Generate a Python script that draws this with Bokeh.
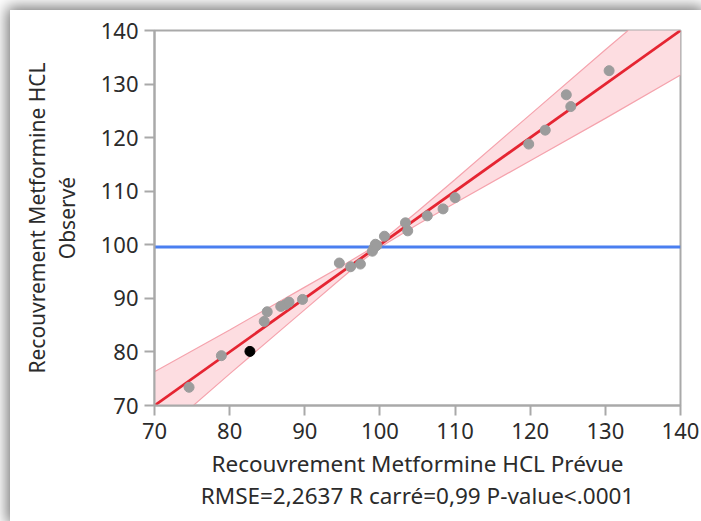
from bokeh.plotting import figure
from bokeh.models import Range1d, FixedTicker
from bokeh.embed import file_html
from bokeh.resources import INLINE

# Predicted vs observed recovery (%) for metformin HCl
predicted = [74.6, 78.9, 84.6, 85.0, 86.8, 87.4, 87.9, 89.7, 94.6, 96.1, 97.4,
             99.0, 99.2, 99.4, 99.6, 100.6, 103.4, 103.7, 106.3, 108.4, 110.0,
             119.8, 122.0, 124.8, 125.4, 130.5]
observed = [73.4, 79.3, 85.7, 87.5, 88.5, 88.8, 89.3, 89.8, 96.6, 95.9, 96.4,
            98.8, 99.4, 100.1, 99.9, 101.6, 104.1, 102.6, 105.4, 106.7, 108.8,
            118.8, 121.4, 128.0, 125.8, 132.5]

# Selected (highlighted) run
selected_predicted = [82.7]
selected_observed = [80.1]

# Fit line and its confidence curves
fit_x = [70, 140]
fit_y = [70, 140]
band_x = [70, 80, 90, 95, 98, 99.6, 101, 105, 110, 120, 130, 140]
band_lower = [63.7, 75.9, 87.9, 93.9, 97.4, 99.1, 100.4, 103.8, 107.8, 115.7, 123.6, 131.7]
band_upper = [76.3, 84.1, 92.1, 96.1, 98.6, 100.1, 101.6, 106.2, 112.2, 124.3, 136.4, 148.3]

# Mean of the observed response
mean_x = [70, 140]
mean_y = [99.6, 99.6]

ticks = [70, 80, 90, 100, 110, 120, 130, 140]

x_title = "Recouvrement Metformine HCL Prévue\nRMSE=2,2637 R carré=0,99 P-value<.0001"
y_title = "Recouvrement Metformine HCL\nObservé"

FONT = "Noto Sans"
GRID = "#a9a9a9"
TEXT = "#2b2b2b"

p = figure(width=691, height=511, output_backend="svg", toolbar_location=None,
           x_range=Range1d(70, 140), y_range=Range1d(70, 140),
           min_border_left=144, min_border_right=21,
           min_border_top=20, min_border_bottom=116)
p.margin = (10, 0, 0, 10)
p.styles = {"box-shadow": "0px 0px 14px 3px rgba(0,0,0,0.55)"}
p.background_fill_color = "white"
p.border_fill_color = "white"
p.outline_line_color = GRID
p.outline_line_width = 2
p.xgrid.visible = False
p.ygrid.visible = False

# confidence region
p.varea(x=band_x, y1=band_lower, y2=band_upper, fill_color="#fddde1", fill_alpha=1.0)
p.line(band_x, band_lower, line_color="#f5a3ad", line_width=1.2)
p.line(band_x, band_upper, line_color="#f5a3ad", line_width=1.2)

# mean line
p.line(mean_x, mean_y, line_color="#4a7ff0", line_width=3)

# fit line
p.line(fit_x, fit_y, line_color="#e52532", line_width=2.8)

# points
p.scatter(predicted, observed, size=10, fill_color="#9c9c9c", line_color="#9c9c9c")
p.scatter(selected_predicted, selected_observed, size=10, fill_color="black", line_color="black")

for ax in (p.xaxis[0], p.yaxis[0]):
    ax.ticker = FixedTicker(ticks=ticks)
    ax.minor_tick_line_color = None
    ax.axis_line_color = GRID
    ax.axis_line_width = 2
    ax.major_tick_line_color = GRID
    ax.major_tick_line_width = 2
    ax.major_tick_out = 10
    ax.major_tick_in = 0
    ax.major_label_text_font = FONT
    ax.major_label_text_font_size = "22px"
    ax.major_label_text_color = TEXT
    ax.axis_label_text_font = FONT
    ax.axis_label_text_font_style = "normal"
    ax.axis_label_text_color = TEXT
    ax.axis_label_text_line_height = 1.05

p.xaxis[0].axis_label = x_title
p.xaxis[0].axis_label_text_font_size = "22.5px"
p.xaxis[0].major_label_standoff = 7
p.xaxis[0].axis_label_standoff = 6
p.yaxis[0].axis_label = y_title
p.yaxis[0].axis_label_text_font_size = "21px"
p.yaxis[0].major_label_standoff = 6
p.yaxis[0].axis_label_standoff = 17

open("out.html", "w").write(file_html(p, INLINE))
